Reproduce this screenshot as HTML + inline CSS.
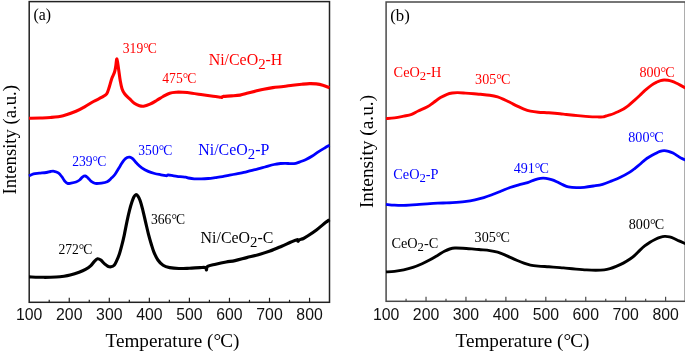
<!DOCTYPE html>
<html><head><meta charset="utf-8"><title>TPR</title>
<style>html,body{margin:0;padding:0;background:#fff;}svg{display:block;will-change:transform;}</style></head>
<body>
<svg width="685" height="353" viewBox="0 0 685 353">
<style>text{font-family:"Liberation Serif",serif;} .tk{font-family:"Liberation Sans",sans-serif;font-size:15.8px;fill:#111;}</style>
<rect width="685" height="353" fill="#fff"/>
<rect x="29.20" y="1.60" width="300.30" height="300.70" fill="none" stroke="#222" stroke-width="1.50"/>
<line x1="49.22" y1="302.30" x2="49.22" y2="299.80" stroke="#222" stroke-width="1.2"/>
<line x1="69.25" y1="302.30" x2="69.25" y2="297.80" stroke="#222" stroke-width="1.2"/>
<line x1="89.27" y1="302.30" x2="89.27" y2="299.80" stroke="#222" stroke-width="1.2"/>
<line x1="109.30" y1="302.30" x2="109.30" y2="297.80" stroke="#222" stroke-width="1.2"/>
<line x1="129.32" y1="302.30" x2="129.32" y2="299.80" stroke="#222" stroke-width="1.2"/>
<line x1="149.35" y1="302.30" x2="149.35" y2="297.80" stroke="#222" stroke-width="1.2"/>
<line x1="169.37" y1="302.30" x2="169.37" y2="299.80" stroke="#222" stroke-width="1.2"/>
<line x1="189.40" y1="302.30" x2="189.40" y2="297.80" stroke="#222" stroke-width="1.2"/>
<line x1="209.42" y1="302.30" x2="209.42" y2="299.80" stroke="#222" stroke-width="1.2"/>
<line x1="229.45" y1="302.30" x2="229.45" y2="297.80" stroke="#222" stroke-width="1.2"/>
<line x1="249.47" y1="302.30" x2="249.47" y2="299.80" stroke="#222" stroke-width="1.2"/>
<line x1="269.50" y1="302.30" x2="269.50" y2="297.80" stroke="#222" stroke-width="1.2"/>
<line x1="289.52" y1="302.30" x2="289.52" y2="299.80" stroke="#222" stroke-width="1.2"/>
<line x1="309.55" y1="302.30" x2="309.55" y2="297.80" stroke="#222" stroke-width="1.2"/>
<text x="29.20" y="320.1" text-anchor="middle" class="tk">100</text>
<text x="69.25" y="320.1" text-anchor="middle" class="tk">200</text>
<text x="109.30" y="320.1" text-anchor="middle" class="tk">300</text>
<text x="149.35" y="320.1" text-anchor="middle" class="tk">400</text>
<text x="189.40" y="320.1" text-anchor="middle" class="tk">500</text>
<text x="229.45" y="320.1" text-anchor="middle" class="tk">600</text>
<text x="269.50" y="320.1" text-anchor="middle" class="tk">700</text>
<text x="309.55" y="320.1" text-anchor="middle" class="tk">800</text>
<rect x="386.10" y="2.00" width="299.20" height="299.30" fill="none" stroke="#4a4a4a" stroke-width="1.50"/>
<line x1="406.06" y1="301.30" x2="406.06" y2="298.80" stroke="#4a4a4a" stroke-width="1.2"/>
<line x1="426.03" y1="301.30" x2="426.03" y2="296.80" stroke="#4a4a4a" stroke-width="1.2"/>
<line x1="446.00" y1="301.30" x2="446.00" y2="298.80" stroke="#4a4a4a" stroke-width="1.2"/>
<line x1="465.96" y1="301.30" x2="465.96" y2="296.80" stroke="#4a4a4a" stroke-width="1.2"/>
<line x1="485.93" y1="301.30" x2="485.93" y2="298.80" stroke="#4a4a4a" stroke-width="1.2"/>
<line x1="505.89" y1="301.30" x2="505.89" y2="296.80" stroke="#4a4a4a" stroke-width="1.2"/>
<line x1="525.86" y1="301.30" x2="525.86" y2="298.80" stroke="#4a4a4a" stroke-width="1.2"/>
<line x1="545.82" y1="301.30" x2="545.82" y2="296.80" stroke="#4a4a4a" stroke-width="1.2"/>
<line x1="565.79" y1="301.30" x2="565.79" y2="298.80" stroke="#4a4a4a" stroke-width="1.2"/>
<line x1="585.75" y1="301.30" x2="585.75" y2="296.80" stroke="#4a4a4a" stroke-width="1.2"/>
<line x1="605.72" y1="301.30" x2="605.72" y2="298.80" stroke="#4a4a4a" stroke-width="1.2"/>
<line x1="625.68" y1="301.30" x2="625.68" y2="296.80" stroke="#4a4a4a" stroke-width="1.2"/>
<line x1="645.64" y1="301.30" x2="645.64" y2="298.80" stroke="#4a4a4a" stroke-width="1.2"/>
<line x1="665.61" y1="301.30" x2="665.61" y2="296.80" stroke="#4a4a4a" stroke-width="1.2"/>
<text x="386.10" y="320.1" text-anchor="middle" class="tk">100</text>
<text x="426.03" y="320.1" text-anchor="middle" class="tk">200</text>
<text x="465.96" y="320.1" text-anchor="middle" class="tk">300</text>
<text x="505.89" y="320.1" text-anchor="middle" class="tk">400</text>
<text x="545.82" y="320.1" text-anchor="middle" class="tk">500</text>
<text x="585.75" y="320.1" text-anchor="middle" class="tk">600</text>
<text x="625.68" y="320.1" text-anchor="middle" class="tk">700</text>
<text x="665.61" y="320.1" text-anchor="middle" class="tk">800</text>
<path d="M29.00,276.90 C31.45,276.97 39.17,277.28 43.70,277.30 C48.23,277.32 52.82,277.18 56.20,277.00 C59.58,276.82 61.67,276.53 64.00,276.20 C66.33,275.87 67.68,275.67 70.20,275.00 C72.72,274.33 76.55,273.13 79.10,272.20 C81.65,271.27 83.58,270.47 85.50,269.40 C87.42,268.33 89.12,267.15 90.60,265.80 C92.08,264.45 93.23,262.47 94.40,261.30 C95.57,260.13 96.53,259.00 97.60,258.80 C98.67,258.60 99.63,259.25 100.80,260.10 C101.97,260.95 103.43,262.88 104.60,263.90 C105.77,264.92 106.73,265.72 107.80,266.20 C108.87,266.68 109.93,266.97 111.00,266.80 C112.07,266.63 113.25,266.22 114.20,265.20 C115.15,264.18 115.85,262.52 116.70,260.70 C117.55,258.88 118.45,256.85 119.30,254.30 C120.15,251.75 120.98,248.57 121.80,245.40 C122.62,242.23 123.33,239.32 124.20,235.30 C125.07,231.28 126.12,225.47 127.00,221.30 C127.88,217.13 128.67,213.55 129.50,210.30 C130.33,207.05 131.25,204.05 132.00,201.80 C132.75,199.55 133.37,197.98 134.00,196.80 C134.63,195.62 135.17,194.85 135.80,194.70 C136.43,194.55 137.10,194.97 137.80,195.90 C138.50,196.83 139.22,198.15 140.00,200.30 C140.78,202.45 141.57,205.17 142.50,208.80 C143.43,212.43 144.60,217.85 145.60,222.10 C146.60,226.35 147.55,230.62 148.50,234.30 C149.45,237.98 150.40,241.23 151.30,244.20 C152.20,247.17 152.80,249.47 153.90,252.10 C155.00,254.73 156.37,257.80 157.90,260.00 C159.43,262.20 161.13,264.03 163.10,265.30 C165.07,266.57 167.07,267.07 169.70,267.60 C172.33,268.13 175.62,268.40 178.90,268.50 C182.18,268.60 185.90,268.35 189.40,268.20 C192.90,268.05 197.23,267.70 199.90,267.60 C202.57,267.50 204.30,267.22 205.40,267.60 C206.50,267.98 206.13,270.12 206.50,269.90 C206.87,269.68 206.07,267.25 207.60,266.30 C209.13,265.35 212.60,264.92 215.70,264.20 C218.80,263.48 222.98,262.60 226.20,262.00 C229.42,261.40 231.58,261.33 235.00,260.60 C238.42,259.87 242.80,258.58 246.70,257.60 C250.60,256.62 254.52,255.78 258.40,254.70 C262.28,253.62 266.12,252.52 270.00,251.10 C273.88,249.68 278.28,247.67 281.70,246.20 C285.12,244.73 287.95,243.38 290.50,242.30 C293.05,241.22 295.73,239.87 297.00,239.70 C298.27,239.53 297.72,241.27 298.10,241.30 C298.48,241.33 298.40,240.37 299.30,239.90 C300.20,239.43 302.05,239.18 303.50,238.50 C304.95,237.82 305.78,237.27 308.00,235.80 C310.22,234.33 313.88,231.90 316.80,229.70 C319.72,227.50 323.38,224.27 325.50,222.60 C327.62,220.93 328.83,220.18 329.50,219.70" fill="none" stroke="#000" stroke-width="3.15" stroke-linejoin="round" stroke-linecap="butt"/>
<path d="M29.00,176.00 C29.75,175.65 31.80,174.37 33.50,173.90 C35.20,173.43 37.07,173.43 39.20,173.20 C41.33,172.97 44.42,172.78 46.30,172.50 C48.18,172.22 49.20,171.70 50.50,171.50 C51.80,171.30 52.80,171.07 54.10,171.30 C55.40,171.53 57.02,172.00 58.30,172.90 C59.58,173.80 60.73,175.35 61.80,176.70 C62.87,178.05 63.75,179.88 64.70,181.00 C65.65,182.12 66.43,183.05 67.50,183.40 C68.57,183.75 69.68,183.33 71.10,183.10 C72.52,182.87 74.58,182.52 76.00,182.00 C77.42,181.48 78.53,180.82 79.60,180.00 C80.67,179.18 81.47,177.77 82.40,177.10 C83.33,176.43 84.25,175.83 85.20,176.00 C86.15,176.17 87.03,177.15 88.10,178.10 C89.17,179.05 90.42,180.82 91.60,181.70 C92.78,182.58 93.55,183.17 95.20,183.40 C96.85,183.63 99.50,183.38 101.50,183.10 C103.50,182.82 105.53,182.53 107.20,181.70 C108.87,180.87 110.18,179.35 111.50,178.10 C112.82,176.85 113.65,176.23 115.10,174.20 C116.55,172.17 118.72,168.25 120.20,165.90 C121.68,163.55 122.83,161.48 124.00,160.10 C125.17,158.72 126.25,158.08 127.20,157.60 C128.15,157.12 128.75,156.98 129.70,157.20 C130.65,157.42 131.72,157.88 132.90,158.90 C134.08,159.92 135.32,161.82 136.80,163.30 C138.28,164.78 139.90,166.45 141.80,167.80 C143.70,169.15 146.07,170.45 148.20,171.40 C150.33,172.35 152.47,172.93 154.60,173.50 C156.73,174.07 159.13,174.43 161.00,174.80 C162.87,175.17 164.80,175.55 165.80,175.70 C166.80,175.85 166.60,175.82 167.00,175.70 C167.40,175.58 167.08,174.98 168.20,175.00 C169.32,175.02 171.72,175.52 173.70,175.80 C175.68,176.08 178.10,176.47 180.10,176.70 C182.10,176.93 184.30,176.98 185.70,177.20 C187.10,177.42 187.08,177.73 188.50,178.00 C189.92,178.27 192.07,178.65 194.20,178.80 C196.33,178.95 198.95,178.95 201.30,178.90 C203.65,178.85 205.95,178.72 208.30,178.50 C210.65,178.28 213.03,177.92 215.40,177.60 C217.77,177.28 220.13,177.00 222.50,176.60 C224.87,176.20 227.23,175.67 229.60,175.20 C231.97,174.73 234.33,174.27 236.70,173.80 C239.07,173.33 241.43,172.93 243.80,172.40 C246.17,171.87 248.53,171.18 250.90,170.60 C253.27,170.02 255.65,169.50 258.00,168.90 C260.35,168.30 262.32,167.73 265.00,167.00 C267.68,166.27 271.52,165.08 274.10,164.50 C276.68,163.92 278.58,163.70 280.50,163.50 C282.42,163.30 283.90,163.27 285.60,163.30 C287.30,163.33 289.00,163.68 290.70,163.70 C292.40,163.72 294.10,163.77 295.80,163.40 C297.50,163.03 299.20,162.15 300.90,161.50 C302.60,160.85 304.10,160.42 306.00,159.50 C307.90,158.58 310.18,157.32 312.30,156.00 C314.42,154.68 316.57,152.98 318.70,151.60 C320.83,150.22 323.30,148.77 325.10,147.70 C326.90,146.63 328.77,145.62 329.50,145.20" fill="none" stroke="#0000ff" stroke-width="2.80" stroke-linejoin="round" stroke-linecap="butt"/>
<path d="M29.00,118.20 C30.83,118.17 36.42,118.12 40.00,118.00 C43.58,117.88 46.63,117.88 50.50,117.50 C54.37,117.12 58.95,116.73 63.20,115.70 C67.45,114.67 72.37,112.82 76.00,111.30 C79.63,109.78 82.08,108.23 85.00,106.60 C87.92,104.97 90.67,103.07 93.50,101.50 C96.33,99.93 99.80,98.48 102.00,97.20 C104.20,95.92 105.48,95.50 106.70,93.80 C107.92,92.10 108.45,89.55 109.30,87.00 C110.15,84.45 110.95,80.90 111.80,78.50 C112.65,76.10 113.75,74.58 114.40,72.60 C115.05,70.62 115.28,68.87 115.70,66.60 C116.12,64.33 116.42,58.57 116.90,59.00 C117.38,59.43 118.03,65.52 118.60,69.20 C119.17,72.88 119.73,77.85 120.30,81.10 C120.87,84.35 121.28,86.58 122.00,88.70 C122.72,90.82 123.32,92.10 124.60,93.80 C125.88,95.50 128.08,97.33 129.70,98.90 C131.32,100.47 132.68,102.07 134.30,103.20 C135.92,104.33 137.85,105.20 139.40,105.70 C140.95,106.20 141.83,106.47 143.60,106.20 C145.37,105.93 147.83,105.05 150.00,104.10 C152.17,103.15 154.42,101.77 156.60,100.50 C158.78,99.23 160.92,97.72 163.10,96.50 C165.28,95.28 167.50,93.92 169.70,93.20 C171.90,92.48 174.12,92.35 176.30,92.20 C178.48,92.05 180.18,92.13 182.80,92.30 C185.42,92.47 188.70,92.78 192.00,93.20 C195.30,93.62 199.08,94.28 202.60,94.80 C206.12,95.32 210.07,95.90 213.10,96.30 C216.13,96.70 219.32,97.02 220.80,97.20 C222.28,97.38 221.57,97.53 222.00,97.40 C222.43,97.27 221.82,96.65 223.40,96.40 C224.98,96.15 228.73,96.12 231.50,95.90 C234.27,95.68 237.27,95.57 240.00,95.10 C242.73,94.63 245.27,93.77 247.90,93.10 C250.53,92.43 253.17,91.75 255.80,91.10 C258.43,90.45 260.87,89.78 263.70,89.20 C266.53,88.62 269.52,88.05 272.80,87.60 C276.08,87.15 280.10,86.90 283.40,86.50 C286.70,86.10 289.53,85.58 292.60,85.20 C295.67,84.82 298.97,84.47 301.80,84.20 C304.63,83.93 307.20,83.65 309.60,83.60 C312.00,83.55 314.00,83.63 316.20,83.90 C318.40,84.17 320.58,84.57 322.80,85.20 C325.02,85.83 328.38,87.28 329.50,87.70" fill="none" stroke="#ff0000" stroke-width="3.10" stroke-linejoin="round" stroke-linecap="butt"/>
<path d="M386.00,271.90 C387.42,271.82 391.55,271.73 394.50,271.40 C397.45,271.07 400.63,270.57 403.70,269.90 C406.77,269.23 409.83,268.43 412.90,267.40 C415.97,266.37 419.25,264.97 422.10,263.70 C424.95,262.43 427.37,261.22 430.00,259.80 C432.63,258.38 435.50,256.62 437.90,255.20 C440.30,253.78 442.43,252.33 444.40,251.30 C446.37,250.27 447.95,249.55 449.70,249.00 C451.45,248.45 452.72,248.13 454.90,248.00 C457.08,247.87 459.62,248.02 462.80,248.20 C465.98,248.38 471.05,248.85 474.00,249.10 C476.95,249.35 477.88,249.45 480.50,249.70 C483.12,249.95 486.85,250.18 489.70,250.60 C492.55,251.02 495.18,251.53 497.60,252.20 C500.02,252.87 502.02,253.70 504.20,254.60 C506.38,255.50 508.52,256.62 510.70,257.60 C512.88,258.58 515.10,259.58 517.30,260.50 C519.50,261.42 521.72,262.33 523.90,263.10 C526.08,263.87 528.00,264.60 530.40,265.10 C532.80,265.60 535.23,265.82 538.30,266.10 C541.37,266.38 545.18,266.55 548.80,266.80 C552.42,267.05 557.22,267.38 560.00,267.60 C562.78,267.82 562.83,267.85 565.50,268.10 C568.17,268.35 572.50,268.80 576.00,269.10 C579.50,269.40 583.22,269.72 586.50,269.90 C589.78,270.08 592.75,270.20 595.70,270.20 C598.65,270.20 601.82,270.15 604.20,269.90 C606.58,269.65 608.00,269.28 610.00,268.70 C612.00,268.12 613.98,267.33 616.20,266.40 C618.42,265.47 620.93,264.37 623.30,263.10 C625.67,261.83 628.45,260.13 630.40,258.80 C632.35,257.47 633.40,256.55 635.00,255.10 C636.60,253.65 638.33,251.67 640.00,250.10 C641.67,248.53 643.33,247.02 645.00,245.70 C646.67,244.38 648.33,243.23 650.00,242.20 C651.67,241.17 653.33,240.30 655.00,239.50 C656.67,238.70 658.37,237.92 660.00,237.40 C661.63,236.88 663.22,236.48 664.80,236.40 C666.38,236.32 667.97,236.55 669.50,236.90 C671.03,237.25 672.42,237.83 674.00,238.50 C675.58,239.17 677.08,240.03 679.00,240.90 C680.92,241.77 684.42,243.23 685.50,243.70" fill="none" stroke="#000" stroke-width="2.90" stroke-linejoin="round" stroke-linecap="butt"/>
<path d="M386.00,204.40 C387.42,204.53 391.55,205.03 394.50,205.20 C397.45,205.37 399.98,205.48 403.70,205.40 C407.42,205.32 412.42,205.00 416.80,204.70 C421.18,204.40 425.62,203.88 430.00,203.60 C434.38,203.32 438.72,203.22 443.10,203.00 C447.48,202.78 452.43,202.57 456.30,202.30 C460.17,202.03 463.18,201.82 466.30,201.40 C469.42,200.98 472.08,200.43 475.00,199.80 C477.92,199.17 480.88,198.48 483.80,197.60 C486.72,196.72 489.58,195.60 492.50,194.50 C495.42,193.40 498.38,192.17 501.30,191.00 C504.22,189.83 507.08,188.52 510.00,187.50 C512.92,186.48 515.87,185.72 518.80,184.90 C521.73,184.08 524.97,183.45 527.60,182.60 C530.23,181.75 532.45,180.52 534.60,179.80 C536.75,179.08 538.60,178.55 540.50,178.30 C542.40,178.05 544.17,178.08 546.00,178.30 C547.83,178.52 549.72,179.03 551.50,179.60 C553.28,180.17 554.77,180.82 556.70,181.70 C558.63,182.58 561.15,184.03 563.10,184.90 C565.05,185.77 566.20,186.43 568.40,186.90 C570.60,187.37 573.67,187.63 576.30,187.70 C578.93,187.77 581.35,187.58 584.20,187.30 C587.05,187.02 590.33,186.50 593.40,186.00 C596.47,185.50 599.53,185.15 602.60,184.30 C605.67,183.45 608.75,182.12 611.80,180.90 C614.85,179.68 617.90,178.47 620.90,177.00 C623.90,175.53 627.45,173.55 629.80,172.10 C632.15,170.65 633.30,169.60 635.00,168.30 C636.70,167.00 638.33,165.72 640.00,164.30 C641.67,162.88 643.33,161.10 645.00,159.80 C646.67,158.50 648.33,157.50 650.00,156.50 C651.67,155.50 653.33,154.65 655.00,153.80 C656.67,152.95 658.48,151.93 660.00,151.40 C661.52,150.87 662.68,150.62 664.10,150.60 C665.52,150.58 667.02,150.88 668.50,151.30 C669.98,151.72 671.42,152.30 673.00,153.10 C674.58,153.90 676.58,155.23 678.00,156.10 C679.42,156.97 680.25,157.63 681.50,158.30 C682.75,158.97 684.83,159.80 685.50,160.10" fill="none" stroke="#0000ff" stroke-width="2.80" stroke-linejoin="round" stroke-linecap="butt"/>
<path d="M386.00,118.60 C387.42,118.48 391.55,118.30 394.50,117.90 C397.45,117.50 400.85,116.78 403.70,116.20 C406.55,115.62 409.18,115.27 411.60,114.40 C414.02,113.53 415.57,112.27 418.20,111.00 C420.83,109.73 424.78,108.27 427.40,106.80 C430.02,105.33 431.72,103.73 433.90,102.20 C436.08,100.67 438.30,98.92 440.50,97.60 C442.70,96.28 445.13,95.07 447.10,94.30 C449.07,93.53 450.55,93.28 452.30,93.00 C454.05,92.72 455.40,92.58 457.60,92.60 C459.80,92.62 462.77,92.90 465.50,93.10 C468.23,93.30 471.50,93.60 474.00,93.80 C476.50,94.00 477.88,94.07 480.50,94.30 C483.12,94.53 486.85,94.77 489.70,95.20 C492.55,95.63 495.18,96.17 497.60,96.90 C500.02,97.63 502.02,98.62 504.20,99.60 C506.38,100.58 508.52,101.72 510.70,102.80 C512.88,103.88 515.10,105.05 517.30,106.10 C519.50,107.15 521.72,108.27 523.90,109.10 C526.08,109.93 528.00,110.58 530.40,111.10 C532.80,111.62 535.23,111.92 538.30,112.20 C541.37,112.48 545.18,112.55 548.80,112.80 C552.42,113.05 557.08,113.42 560.00,113.70 C562.92,113.98 563.35,114.18 566.30,114.50 C569.25,114.82 573.92,115.25 577.70,115.60 C581.48,115.95 585.70,116.38 589.00,116.60 C592.30,116.82 595.17,116.85 597.50,116.90 C599.83,116.95 601.58,117.05 603.00,116.90 C604.42,116.75 604.83,116.33 606.00,116.00 C607.17,115.67 608.67,115.32 610.00,114.90 C611.33,114.48 612.67,114.02 614.00,113.50 C615.33,112.98 616.67,112.42 618.00,111.80 C619.33,111.18 620.83,110.43 622.00,109.80 C623.17,109.17 623.88,108.75 625.00,108.00 C626.12,107.25 627.13,106.58 628.70,105.30 C630.27,104.02 632.52,101.98 634.40,100.30 C636.28,98.62 638.23,96.85 640.00,95.20 C641.77,93.55 643.07,92.08 645.00,90.40 C646.93,88.72 649.68,86.45 651.60,85.10 C653.52,83.75 655.02,83.03 656.50,82.30 C657.98,81.57 659.23,81.08 660.50,80.70 C661.77,80.32 662.85,80.07 664.10,80.00 C665.35,79.93 666.77,80.10 668.00,80.30 C669.23,80.50 670.17,80.75 671.50,81.20 C672.83,81.65 674.40,82.27 676.00,83.00 C677.60,83.73 679.52,84.77 681.10,85.60 C682.68,86.43 684.77,87.60 685.50,88.00" fill="none" stroke="#ff0000" stroke-width="2.90" stroke-linejoin="round" stroke-linecap="butt"/>
<text x="33.50" y="20.10" fill="#000" font-size="15.80" text-anchor="start">(a)</text>
<text x="390.20" y="20.90" fill="#000" font-size="16.80" text-anchor="start">(b)</text>
<text x="122.80" y="52.80" fill="#ff0000" font-size="13.60" text-anchor="start">319°<tspan dx="-0.9">C</tspan></text>
<text x="162.30" y="82.60" fill="#ff0000" font-size="13.60" text-anchor="start">475°<tspan dx="-0.9">C</tspan></text>
<text x="72.20" y="165.70" fill="#0000ff" font-size="13.60" text-anchor="start">239°<tspan dx="-0.9">C</tspan></text>
<text x="138.30" y="154.60" fill="#0000ff" font-size="13.60" text-anchor="start">350°<tspan dx="-0.9">C</tspan></text>
<text x="58.40" y="253.90" fill="#000" font-size="13.60" text-anchor="start">272°<tspan dx="-0.9">C</tspan></text>
<text x="151.00" y="223.80" fill="#000" font-size="13.60" text-anchor="start">366°<tspan dx="-0.9">C</tspan></text>
<text x="208.70" y="64.80" fill="#ff0000" font-size="15.90">Ni/CeO<tspan dy="3.80" font-size="14.80">2</tspan><tspan dy="-3.80">-H</tspan></text>
<text x="198.30" y="154.70" fill="#0000ff" font-size="15.90">Ni/CeO<tspan dy="3.80" font-size="14.80">2</tspan><tspan dy="-3.80">-P</tspan></text>
<text x="200.60" y="242.70" fill="#000" font-size="15.90">Ni/CeO<tspan dy="3.80" font-size="14.80">2</tspan><tspan dy="-3.80">-C</tspan></text>
<text x="475.10" y="84.00" fill="#ff0000" font-size="14.10" text-anchor="start">305°<tspan dx="-0.9">C</tspan></text>
<text x="639.40" y="76.80" fill="#ff0000" font-size="14.10" text-anchor="start">800°<tspan dx="-0.9">C</tspan></text>
<text x="513.70" y="172.90" fill="#0000ff" font-size="14.10" text-anchor="start">491°<tspan dx="-0.9">C</tspan></text>
<text x="628.30" y="142.20" fill="#0000ff" font-size="14.10" text-anchor="start">800°<tspan dx="-0.9">C</tspan></text>
<text x="474.60" y="242.10" fill="#000" font-size="14.10" text-anchor="start">305°<tspan dx="-0.9">C</tspan></text>
<text x="628.80" y="229.30" fill="#000" font-size="14.10" text-anchor="start">800°<tspan dx="-0.9">C</tspan></text>
<text x="393.60" y="76.60" fill="#ff0000" font-size="14.30">CeO<tspan dy="3.40" font-size="12.70">2</tspan><tspan dy="-3.40">-H</tspan></text>
<text x="393.30" y="178.90" fill="#0000ff" font-size="14.30">CeO<tspan dy="3.40" font-size="12.70">2</tspan><tspan dy="-3.40">-P</tspan></text>
<text x="391.40" y="247.70" fill="#000" font-size="14.30">CeO<tspan dy="3.40" font-size="12.70">2</tspan><tspan dy="-3.40">-C</tspan></text>
<text x="172.5" y="347.1" text-anchor="middle" font-size="19.2" fill="#000">Temperature (°<tspan dx="-0.8">C)</tspan></text>
<text x="522.5" y="347.1" text-anchor="middle" font-size="19.2" fill="#000">Temperature (°<tspan dx="-0.8">C)</tspan></text>
<text transform="translate(15.6,139.8) rotate(-90)" text-anchor="middle" font-size="18.67" fill="#000">Intensity (a.u.)</text>
<text transform="translate(373.1,151.5) rotate(-90) scale(1.035,1)" text-anchor="middle" font-size="18.67" fill="#000">Intensity (a.u.)</text>
</svg>
</body></html>
